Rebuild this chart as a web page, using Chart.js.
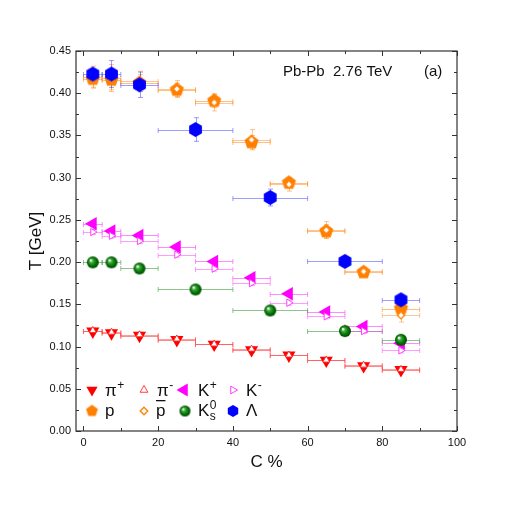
<!DOCTYPE html>
<html>
<head>
<meta charset="utf-8">
<script src="https://cdn.jsdelivr.net/npm/chart.js@4/dist/chart.umd.min.js"></script>
<style>
  html, body { margin: 0; padding: 0; background: #fff; }
  #wrap { width: 507px; height: 507px; }
</style>
</head>
<body>
<div id="wrap"><canvas id="myChart" width="507" height="507"></canvas></div>
<script>
// centrality bins (%)
const binLo = [0, 5, 10, 20, 30, 40, 50, 60, 70, 80];
const binHi = [5, 10, 20, 30, 40, 50, 60, 70, 80, 90];
const binLoV0 = [0, 5, 10, 20, 40, 60, 80];
const binHiV0 = [5, 10, 20, 40, 60, 80, 90];

// temperature T [GeV] and errors
const tPiPlus = [0.118, 0.116, 0.113, 0.108, 0.1025, 0.096, 0.0895, 0.0835, 0.077, 0.0725];
const ePiPlus = [0.003, 0.003, 0.003, 0.003, 0.003, 0.003, 0.003, 0.003, 0.003, 0.003];
const tPiMinus = [0.119, 0.117, 0.114, 0.109, 0.103, 0.097, 0.090, 0.084, 0.078, 0.073];
const ePiMinus = [0.003, 0.003, 0.003, 0.003, 0.003, 0.003, 0.003, 0.003, 0.003, 0.003];
const tKPlus = [0.2455, 0.2367, 0.2316, 0.2178, 0.2008, 0.1815, 0.1625, 0.1408, 0.1238, 0.104];
const eKPlus = [0.003, 0.003, 0.003, 0.003, 0.003, 0.003, 0.003, 0.003, 0.003, 0.003];
const tKMinus = [0.2356, 0.2312, 0.2249, 0.2088, 0.1922, 0.1751, 0.1519, 0.1357, 0.1183, 0.0954];
const eKMinus = [0.003, 0.003, 0.003, 0.003, 0.003, 0.003, 0.003, 0.003, 0.003, 0.003];
const tP = [0.417, 0.416, 0.412, 0.404, 0.391, 0.342, 0.294, 0.2364, 0.188, 0.145];
const eP = [0.010, 0.012, 0.010, 0.008, 0.008, 0.008, 0.006, 0.008, 0.005, 0.006];
const tPbar = [0.419, 0.418, 0.414, 0.405, 0.389, 0.345, 0.292, 0.238, 0.189, 0.137];
const ePbar = [0.013, 0.016, 0.012, 0.010, 0.010, 0.012, 0.008, 0.010, 0.005, 0.008];
const tK0s = [0.1997, 0.1997, 0.1925, 0.1676, 0.1427, 0.1183, 0.108];
const eK0s = [0.003, 0.003, 0.003, 0.003, 0.003, 0.003, 0.003];
const tLambda = [0.4227, 0.4227, 0.410, 0.357, 0.2765, 0.2008, 0.1554];
const eLambda = [0.005, 0.016, 0.015, 0.014, 0.010, 0.004, 0.004];

// axis ticks
const xTicks = [0, 20, 40, 60, 80, 100];
const xMinor = [10, 30, 50, 70, 90];
const yTicks = [0, 0.05, 0.10, 0.15, 0.20, 0.25, 0.30, 0.35, 0.40, 0.45];
const yMinor = [0.025, 0.075, 0.125, 0.175, 0.225, 0.275, 0.325, 0.375, 0.425];

const FONT = "'Liberation Sans', Arial, sans-serif";

// marker images
function makeMarker(R, draw) {
    const c = document.createElement('canvas');
    const s = Math.ceil(2 * R + 4);
    c.width = s; c.height = s;
    draw(c.getContext('2d'), s / 2, R);
    return c;
}
function polygon(g, c, R, n) {
    g.beginPath();
    for (let k = 0; k < n; k++) {
        const a = -Math.PI / 2 + k * 2 * Math.PI / n;
        const px = c + R * Math.cos(a), py = c + R * Math.sin(a);
        if (k === 0) g.moveTo(px, py); else g.lineTo(px, py);
    }
    g.closePath();
}
function pentagon(R) {
    return makeMarker(R, (g, c) => { polygon(g, c, R, 5); g.fillStyle = '#ff8000'; g.fill(); });
}
function hexagon(R) {
    return makeMarker(R, (g, c) => { polygon(g, c, R, 6); g.fillStyle = '#0000ff'; g.fill(); });
}
function diamond(R) {
    return makeMarker(R, (g, c) => {
        polygon(g, c, R, 4);
        g.fillStyle = '#fff'; g.fill();
        g.lineWidth = 1.3; g.strokeStyle = '#ff8000'; g.stroke();
    });
}
function sphere(R) {
    return makeMarker(R, (g, c) => {
        const gr = g.createRadialGradient(c - R * 0.35, c - R * 0.35, 0.5, c, c, R);
        gr.addColorStop(0, '#ffffff');
        gr.addColorStop(0.25, '#3faa3f');
        gr.addColorStop(0.7, '#007000');
        gr.addColorStop(1, '#004a00');
        g.beginPath(); g.arc(c, c, R, 0, Math.PI * 2);
        g.fillStyle = gr; g.fill();
    });
}

function pts(lo, hi, t) {
    return t.map((v, i) => ({ x: (lo[i] + hi[i]) / 2, y: v }));
}

// draw error bars under the markers
const errorBars = {
    id: 'errorBars',
    beforeDatasetsDraw(chart) {
        const { ctx, scales: { x, y } } = chart;
        const cap = 2.5;
        ctx.save();
        ctx.lineWidth = 1;
        chart.data.datasets.slice().reverse().forEach(ds => {
            ctx.strokeStyle = ds.barColor;
            ds.data.forEach((pt, i) => {
                const py = Math.round(y.getPixelForValue(pt.y)) + 0.5;
                const px = Math.round(x.getPixelForValue(pt.x)) + 0.5;
                const x1 = x.getPixelForValue(ds.errLo[i]), x2 = x.getPixelForValue(ds.errHi[i]);
                const y1 = y.getPixelForValue(pt.y - ds.errY[i]), y2 = y.getPixelForValue(pt.y + ds.errY[i]);
                ctx.beginPath();
                ctx.moveTo(x1, py); ctx.lineTo(x2, py);
                ctx.moveTo(x1, py - cap); ctx.lineTo(x1, py + cap);
                ctx.moveTo(x2, py - cap); ctx.lineTo(x2, py + cap);
                ctx.moveTo(px, y1); ctx.lineTo(px, y2);
                ctx.moveTo(px - cap, y1); ctx.lineTo(px + cap, y1);
                ctx.moveTo(px - cap, y2); ctx.lineTo(px + cap, y2);
                ctx.stroke();
            });
        });
        ctx.restore();
    }
};

// frame, inward ticks, legend and labels
const decorations = {
    id: 'decorations',
    afterDatasetsDraw(chart) {
        const { ctx, chartArea: a, scales: { x, y } } = chart;
        ctx.save();
        ctx.strokeStyle = '#333';
        ctx.lineWidth = 1.2;
        ctx.strokeRect(a.left, a.top, a.right - a.left, a.bottom - a.top);
        ctx.lineWidth = 1;
        ctx.beginPath();
        const xt = (v, len) => {
            const px = Math.round(x.getPixelForValue(v)) + 0.5;
            ctx.moveTo(px, a.bottom); ctx.lineTo(px, a.bottom - len);
            ctx.moveTo(px, a.top); ctx.lineTo(px, a.top + len);
        };
        const yt = (v, len) => {
            const py = Math.round(y.getPixelForValue(v)) + 0.5;
            ctx.moveTo(a.left, py); ctx.lineTo(a.left + len, py);
            ctx.moveTo(a.right, py); ctx.lineTo(a.right - len, py);
        };
        xTicks.forEach(v => xt(v, 5));
        xMinor.forEach(v => xt(v, 3));
        yTicks.forEach(v => yt(v, 5));
        yMinor.forEach(v => yt(v, 3));
        ctx.stroke();

        // annotation
        ctx.fillStyle = '#111';
        ctx.font = '15px ' + FONT;
        ctx.textBaseline = 'alphabetic';
        ctx.fillText('Pb-Pb  2.76 TeV', 283, 76);
        ctx.fillText('(a)', 424, 76);

        // legend
        const big = '17px ' + FONT, small = '12px ' + FONT;
        legendItems.forEach(it => {
            ctx.fillStyle = it.fill;
            ctx.strokeStyle = it.stroke;
            ctx.lineWidth = it.bw || 0;
            Chart.helpers.drawPoint(ctx, { pointStyle: it.style, rotation: it.rot || 0, radius: it.r, borderWidth: it.bw || 0 }, it.mx, it.my);
            ctx.fillStyle = '#111';
            ctx.font = big;
            ctx.fillText(it.base, it.tx, it.ty);
            const w = ctx.measureText(it.base).width;
            ctx.font = small;
            if (it.sup) ctx.fillText(it.sup, it.tx + w + 0.5, it.ty - 7);
            if (it.sub) ctx.fillText(it.sub, it.tx + w + 0.5, it.ty + 4);
            if (it.bar) {
                ctx.fillRect(it.tx, it.ty - 16, w, 1.3);
            }
        });
        ctx.restore();
    }
};

const legendItems = [
    { style: 'triangle', rot: 180, r: 6.5, fill: '#ff0000', stroke: '#ff0000', mx: 92, my: 390, base: 'π', sup: '+', tx: 105, ty: 396 },
    { style: 'triangle', r: 4.5, fill: '#fff', stroke: '#ff4040', bw: 1, mx: 144, my: 390, base: 'π', sup: '-', tx: 157, ty: 396 },
    { style: 'triangle', rot: 270, r: 7.5, fill: '#ff00ff', stroke: '#ff00ff', mx: 184, my: 390, base: 'K', sup: '+', tx: 198, ty: 396 },
    { style: 'triangle', rot: 90, r: 4.5, fill: '#fff', stroke: '#ff40ff', bw: 1, mx: 233, my: 390, base: 'K', sup: '-', tx: 246, ty: 396 },
    { style: pentagon(6.2), r: 6, fill: '#ff8000', stroke: '#ff8000', mx: 92, my: 411, base: 'p', tx: 105, ty: 416 },
    { style: diamond(3.8), r: 4, fill: '#fff', stroke: '#ff8000', mx: 144, my: 411, base: 'p', bar: true, tx: 156, ty: 416 },
    { style: sphere(5.5), r: 5.5, fill: '#008000', stroke: '#008000', mx: 185, my: 411, base: 'K', sup: '0', sub: 's', tx: 198, ty: 416 },
    { style: hexagon(6), r: 6, fill: '#0000ff', stroke: '#0000ff', mx: 233, my: 411, base: 'Λ', tx: 246, ty: 416 }
];

function series(label, lo, hi, t, e, barColor, style) {
    return Object.assign({
        label: label,
        data: pts(lo, hi, t),
        errLo: lo, errHi: hi, errY: e,
        barColor: barColor,
        showLine: false,
        pointBorderWidth: 0
    }, style);
}

// first in list is drawn on top
const datasets = [
    series('π-', binLo, binHi, tPiMinus, ePiMinus, 'rgba(255,60,60,0.5)',
        { pointStyle: 'triangle', pointRadius: 4, pointBackgroundColor: '#fff', pointBorderColor: '#ff3030', pointBorderWidth: 1 }),
    series('π+', binLo, binHi, tPiPlus, ePiPlus, 'rgba(255,0,0,0.45)',
        { pointStyle: 'triangle', pointRotation: 180, pointRadius: 7.6, pointBackgroundColor: '#ff0000', pointBorderColor: '#ff0000' }),
    series('K-', binLo, binHi, tKMinus, eKMinus, 'rgba(255,60,255,0.5)',
        { pointStyle: 'triangle', pointRotation: 90, pointRadius: 4.2, pointBackgroundColor: '#fff', pointBorderColor: '#ff40ff', pointBorderWidth: 1 }),
    series('K0s', binLoV0, binHiV0, tK0s, eK0s, 'rgba(0,128,0,0.45)',
        { pointStyle: sphere(6), pointRadius: 6 }),
    series('K+', binLo, binHi, tKPlus, eKPlus, 'rgba(255,0,255,0.45)',
        { pointStyle: 'triangle', pointRotation: 270, pointRadius: 7.8, pointBackgroundColor: '#ff00ff', pointBorderColor: '#ff00ff' }),
    series('Λ', binLoV0, binHiV0, tLambda, eLambda, 'rgba(40,40,255,0.45)',
        { pointStyle: hexagon(7.4), pointRadius: 7.4 }),
    series('pbar', binLo, binHi, tPbar, ePbar, 'rgba(255,140,40,0.5)',
        { pointStyle: diamond(3.6), pointRadius: 3.6 }),
    series('p', binLo, binHi, tP, eP, 'rgba(255,128,0,0.5)',
        { pointStyle: pentagon(7.4), pointRadius: 7.4 })
];

document.addEventListener('DOMContentLoaded', function () {
    const ctx = document.getElementById('myChart').getContext('2d');
    new Chart(ctx, {
        type: 'scatter',
        data: { datasets: datasets },
        options: {
            responsive: false,
            animation: false,
            events: [],
            layout: { padding: { left: 0, right: 50, top: 51, bottom: 0 } },
            plugins: { legend: { display: false }, tooltip: { enabled: false } },
            scales: {
                x: {
                    type: 'linear', min: -2, max: 100,
                    grid: { display: false, drawTicks: false },
                    border: { display: false },
                    afterBuildTicks: s => { s.ticks = xTicks.map(v => ({ value: v })); },
                    afterFit: s => { s.height = 76; },
                    ticks: { padding: 5, color: '#111', font: { family: FONT, size: 11 } },
                    title: { display: true, text: 'C %', color: '#111', padding: { top: 0, bottom: 34 }, font: { family: FONT, size: 17 } }
                },
                y: {
                    type: 'linear', min: 0, max: 0.45,
                    grid: { display: false, drawTicks: false },
                    border: { display: false },
                    afterBuildTicks: s => { s.ticks = yTicks.map(v => ({ value: v })); },
                    afterFit: s => { s.width = 76; },
                    ticks: { padding: 5, color: '#111', font: { family: FONT, size: 11 }, callback: v => v.toFixed(2) },
                    title: { display: true, text: 'T [GeV]', color: '#111', padding: { top: 26, bottom: 0 }, font: { family: FONT, size: 17 } }
                }
            }
        },
        plugins: [errorBars, decorations]
    });
});
</script>
</body>
</html>
